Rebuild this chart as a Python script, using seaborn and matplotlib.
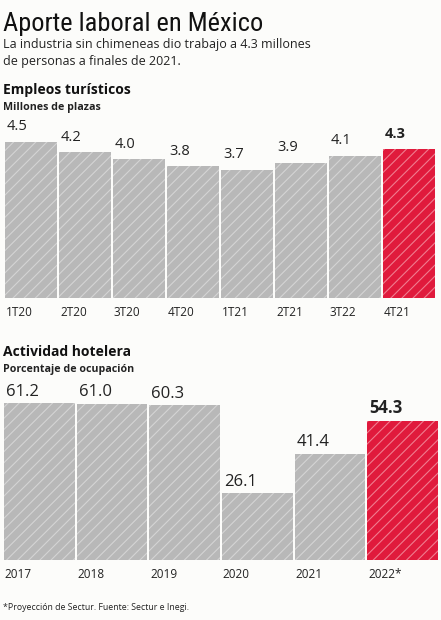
import matplotlib
matplotlib.use("Agg")
import matplotlib.pyplot as plt
import matplotlib.transforms as mtrans
import seaborn as sns
import pandas as pd

# data
empleo_periodos = ["1T20", "2T20", "3T20", "4T20", "1T21", "2T21", "3T22", "4T21"]
empleo_valores = [4.5, 4.2, 4.0, 3.8, 3.7, 3.9, 4.1, 4.3]
hotel_anios = ["2017", "2018", "2019", "2020", "2021", "2022*"]
hotel_valores = [61.2, 61.0, 60.3, 26.1, 41.4, 54.3]

GRIS = "#b8b8b8"
GRIS_HATCH = "#d4d4d4"
ROJO = "#e01a3c"
ROJO_HATCH = "#f07d8f"
FONDO = "#fcfcfa"

sns.set_style("white")
plt.rcParams['font.family'] = ['Open Sans', 'DejaVu Sans']
plt.rcParams['hatch.linewidth'] = 0.8

fig = plt.figure(figsize=(4.41, 6.20), dpi=100)
fig.patch.set_facecolor(FONDO)


def panel(ax, cats, vals, width, label_size, gap_pt):
    df = pd.DataFrame({"cat": cats, "val": vals})
    sns.barplot(data=df, x="cat", y="val", ax=ax, color=GRIS, width=width,
                saturation=1)
    n = len(cats)
    for i, p in enumerate(ax.patches):
        last = i == n - 1
        p.set_facecolor(ROJO if last else GRIS)
        p.set_edgecolor(ROJO_HATCH if last else GRIS_HATCH)
        p.set_linewidth(0)
        p.set_hatch("///")
        ax.annotate("{:.1f}".format(vals[i]), (p.get_x(), p.get_height()),
                    xytext=(1.5, gap_pt), textcoords="offset points",
                    ha="left", va="bottom", fontsize=label_size,
                    fontweight="bold" if last else "normal", color="#222222",
                    annotation_clip=False)
    ax.set_xlim(-0.5, n - 0.5)
    ax.set_ylim(0, max(vals))
    ax.set_xlabel("")
    ax.set_ylabel("")
    ax.set_yticks([])
    ax.set_xticks(range(n))
    ax.set_xticklabels(cats, ha="left", fontsize=8.5, color="#222222")
    ax.tick_params(axis="x", length=0, pad=6)
    # tick labels start at left edge of each bar
    off = mtrans.ScaledTranslation(-width / 2 * (ax.get_position().width * 4.41 / n) + 0.01, 0,
                                   fig.dpi_scale_trans)
    for lbl in ax.get_xticklabels():
        lbl.set_transform(lbl.get_transform() + off)
    sns.despine(ax=ax, left=True, bottom=True)
    ax.set_facecolor(FONDO)


ax1 = fig.add_axes([4 / 441, 1 - 298 / 620, 432 / 441, (298 - 142) / 620])
panel(ax1, empleo_periodos, empleo_valores, 0.963, 10.5, 5.5)

ax2 = fig.add_axes([3 / 441, 1 - 560 / 620, 436 / 441, (560 - 403) / 620])
panel(ax2, hotel_anios, hotel_valores, 0.975, 12, 2.5)

# texts
fig.text(3 / 441, 1 - 31 / 620, "Aporte laboral en México", fontsize=19,
         family=['Roboto Condensed', 'DejaVu Sans'], stretch="condensed",
         color="#111111", ha="left", va="baseline")
fig.text(3 / 441, 1 - 48 / 620, "La industria sin chimeneas dio trabajo a 4.3 millones",
         fontsize=9, color="#222222", ha="left", va="baseline")
fig.text(3 / 441, 1 - 65 / 620, "de personas a finales de 2021.",
         fontsize=9, color="#222222", ha="left", va="baseline")
fig.text(3 / 441, 1 - 94 / 620, "Empleos turísticos", fontsize=10, fontweight="bold",
         color="#111111", ha="left", va="baseline")
fig.text(3 / 441, 1 - 110 / 620, "Millones de plazas", fontsize=7.7, fontweight="bold",
         color="#222222", ha="left", va="baseline")
fig.text(3 / 441, 1 - 356 / 620, "Actividad hotelera", fontsize=10, fontweight="bold",
         color="#111111", ha="left", va="baseline")
fig.text(3 / 441, 1 - 372 / 620, "Porcentaje de ocupación", fontsize=7.7, fontweight="bold",
         color="#222222", ha="left", va="baseline")
fig.text(3 / 441, 1 - 610 / 620, "*Proyección de Sectur. Fuente: Sectur e Inegi.", fontsize=6.3,
         color="#222222", ha="left", va="baseline")

fig.savefig("out.png", dpi=100, facecolor=FONDO)
